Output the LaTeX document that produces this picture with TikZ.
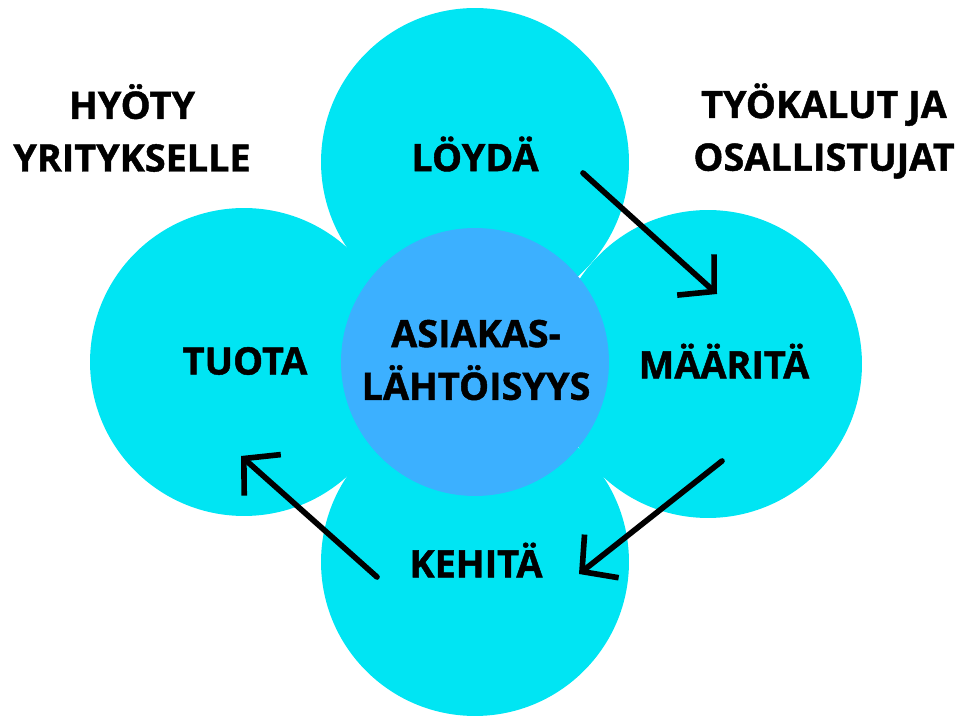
\documentclass[tikz,border=0pt]{standalone}
\usepackage{fontspec}
\setmainfont{Open Sans}[BoldFeatures={FakeBold=1.2}]
\usetikzlibrary{arrows.meta}

\definecolor{petalcyan}{RGB}{0,229,243}
\definecolor{hubblue}{RGB}{60,176,255}

\begin{document}
\begin{tikzpicture}[x=0.02cm, y=-0.02cm,
    petal/.style={circle, fill=petalcyan, minimum size=6.16cm, inner sep=0pt},
    hub/.style={circle, fill=hubblue, minimum size=5.36cm, inner sep=0pt},
    lbl/.style={font=\bfseries\fontsize{21.5}{30}\selectfont, align=center},
    handarrow/.style={line width=3.2pt, line cap=round,
      -{Straight Barb[length=5mm, width=11mm]}}]
   \useasboundingbox (0,0) rectangle (965,716);
   % petals and hub
   \node[petal] (top) at (475,162) {};
   \node[petal] (left) at (244,362) {};
   \node[petal] (right) at (708,364) {};
   \node[petal] (bottom) at (475,562) {};
   \node[hub] (centre) at (475,362) {};
   % labels
   \node[lbl] (loyda) at (475,154) {LÖYDÄ};
   \node[lbl] (tuota) at (245,361) {TUOTA};
   \node[lbl] (maarita) at (724,361) {MÄÄRITÄ};
   \node[lbl] (kehita) at (476,560) {KEHITÄ};
   \node[lbl] (asiakas) at (476,360) {ASIAKAS-\\LÄHTÖISYYS};
   \node[lbl] (hyoty) at (132,128) {HYÖTY\\YRITYKSELLE};
   \node[lbl] (tyokalut) at (824,131) {TYÖKALUT JA\\OSALLISTUJAT};
   % arrows
   \coordinate (a1) at (583,173);
   \coordinate (b1) at (717,294);
   \coordinate (a2) at (722,461);
   \coordinate (b2) at (579,574);
   \coordinate (a3) at (377,577);
   \coordinate (b3) at (241,456);
   \draw[handarrow] (a1) -- (b1);
   \draw[handarrow] (a2) -- (b2);
   \draw[handarrow] (a3) -- (b3);
\end{tikzpicture}
\end{document}
